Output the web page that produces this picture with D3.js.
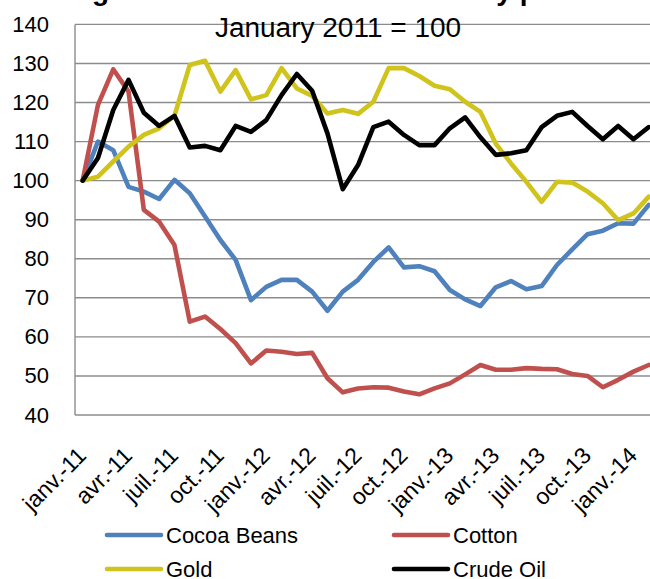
<!DOCTYPE html>
<html>
<head>
<meta charset="utf-8">
<script src="https://cdn.jsdelivr.net/npm/d3@7"></script>
<style>
    body { margin: 0; background: white; }
    text { font-family: "Liberation Sans", Arial, sans-serif; fill: black; }
</style>
</head>
<body>
<div id="chart"></div>
<script>
// French month abbreviations used on the category axis
var monthNames = ["janv.", "févr.", "mars", "avr.", "mai", "juin", "juil.", "août", "sept.", "oct.", "nov.", "déc."];
var years = ["11", "12", "13", "14"];
var nbMonths = 38; // janv.-11 .. févr.-14

var yTicks = [40, 50, 60, 70, 80, 90, 100, 110, 120, 130, 140];

var cocoaBeans = [100, 110, 107.8, 98.4, 97.2, 95.3, 100.2, 96.8, 90.8, 84.8, 79.7, 69.4, 72.8, 74.6, 74.6, 71.6, 66.7, 71.6, 74.6, 79.2,
    82.9, 77.8, 78.1, 76.8, 72, 69.6, 67.9, 72.7, 74.3, 72.2, 73, 78.4, 82.4, 86.3, 87.2, 89.1, 89, 93.8];
var cotton = [100, 119.4, 128.5, 122.8, 92.5, 89.5, 83.5, 63.9, 65.2, 62, 58.4, 53.2, 56.5, 56.2, 55.6, 55.9, 49.4, 45.8, 46.8, 47.1,
    47, 46, 45.3, 46.8, 48.1, 50.4, 52.8, 51.6, 51.6, 52, 51.8, 51.7, 50.5, 50, 47.1, 49, 51.1, 52.8];
var gold = [100, 101, 104.9, 108.7, 111.7, 113.4, 116.6, 129.6, 130.7, 122.8, 128.3, 120.8, 121.9, 128.8, 123.6, 121.7, 117.2, 118.1, 117.1, 120.2,
    128.8, 128.8, 126.8, 124.3, 123.4, 120.2, 117.6, 109.5, 104.4, 99.7, 94.6, 99.7, 99.5, 97.2, 94.2, 89.9, 91.6, 95.9];
var crudeOil = [100, 105.8, 118.1, 125.8, 117.4, 114, 116.6, 108.5, 108.9, 107.8, 114, 112.5, 115.5, 121.9, 127.3, 123, 112.1, 97.8, 104, 113.7,
    115.1, 111.7, 109.1, 109.1, 113.4, 116.2, 111.1, 106.6, 107, 107.8, 113.7, 116.6, 117.6, 114, 110.6, 114, 110.6, 113.7];

var seriesNames = ["Cocoa Beans", "Cotton", "Gold", "Crude Oil"];
var seriesColors = ["#4f81bd", "#c0504d", "#cfc31c", "#000000"];

var months = [];
for (let index = 0; index < nbMonths; index++) {
    months.push(monthNames[index % 12] + "-" + years[Math.floor(index / 12)]);
}

var series = [cocoaBeans, cotton, gold, crudeOil].map(function(values, k) {
    return { name: seriesNames[k], color: seriesColors[k], values: values };
});

var width = 650;
var height = 579;
var plotLeft = 75, plotTop = 24.4, plotBottom = 415;
var monthWidth = 15.3;

var svg = d3.select('#chart')
    .append('svg')
    .attr('width', width)
    .attr('height', height)
    .style('display', 'block');

var x = d3.scaleBand()
    .domain(months)
    .range([plotLeft, plotLeft + monthWidth * nbMonths]);

var y = d3.scaleLinear()
    .domain([40, 140])
    .range([plotBottom, plotTop]);

// horizontal gridlines
svg.append('g')
    .selectAll('line')
    .data(yTicks)
    .enter()
    .append('line')
    .attr('x1', plotLeft)
    .attr('x2', width + 10)
    .attr('y1', (d) => y(d))
    .attr('y2', (d) => y(d))
    .attr('stroke', '#8c8c8c')
    .attr('stroke-width', 1.4);

// y axis line
svg.append('line')
    .attr('x1', plotLeft)
    .attr('x2', plotLeft)
    .attr('y1', y(140))
    .attr('y2', y(40))
    .attr('stroke', '#8c8c8c')
    .attr('stroke-width', 1.4);

var yAxis = d3.axisLeft(y)
    .tickValues(yTicks)
    .tickSize(0)
    .tickPadding(26);

svg.append('g')
    .attr('transform', 'translate(' + plotLeft + ',0)')
    .call(yAxis)
    .call((g) => g.select('.domain').remove())
    .selectAll('text')
    .attr('font-size', 22)
    .attr('font-family', '"Liberation Sans", Arial, sans-serif')
    .attr('fill', 'black');

// x axis labels, every 3 months
var xLabels = months.filter((d, i) => i % 3 === 0);

svg.append('g')
    .selectAll('text')
    .data(xLabels)
    .enter()
    .append('text')
    .attr('transform', (d) => 'translate(' + (x(d) + x.bandwidth() / 2 + 5) + ',' + (plotBottom + 42) + ') rotate(-45)')
    .attr('text-anchor', 'end')
    .attr('font-size', 23)
    .text((d) => d);

var line = d3.line()
    .x((d, i) => x(months[i]) + x.bandwidth() / 2)
    .y((d) => y(d));

svg.append('g')
    .selectAll('path')
    .data(series)
    .enter()
    .append('path')
    .attr('d', (d) => line(d.values))
    .attr('fill', 'none')
    .attr('stroke', (d) => d.color)
    .attr('stroke-width', 4.6)
    .attr('stroke-linejoin', 'round')
    .attr('stroke-linecap', 'round');

// titles (main title is cut off at the top of the picture)
svg.append('text')
    .attr('x', 67)
    .attr('y', 0)
    .attr('font-size', 28)
    .attr('font-weight', 'bold')
    .text('Figure 2: Evolution of commodity prices');

svg.append('text')
    .attr('x', 338)
    .attr('y', 37)
    .attr('text-anchor', 'middle')
    .attr('font-size', 28)
    .text('January 2011 = 100');

// legend, two columns
var legendX = [107, 394];
var legendY = [535, 569];

var legend = svg.append('g')
    .selectAll('g')
    .data(series)
    .enter()
    .append('g')
    .attr('transform', (d, i) => 'translate(' + legendX[i % 2] + ',' + legendY[Math.floor(i / 2)] + ')');

legend.append('line')
    .attr('x1', 0)
    .attr('x2', 54)
    .attr('stroke', (d) => d.color)
    .attr('stroke-width', 4.6)
    .attr('stroke-linecap', 'round');

legend.append('text')
    .attr('x', 59)
    .attr('dy', '0.35em')
    .attr('font-size', 22)
    .text((d) => d.name);
</script>
</body>
</html>
